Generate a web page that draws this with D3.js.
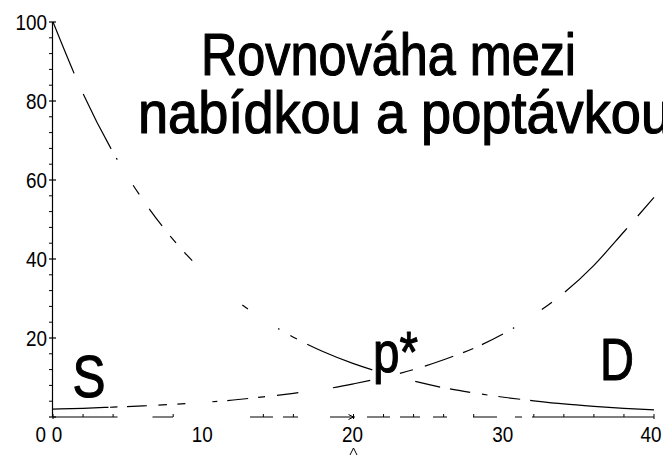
<!DOCTYPE html>
<html><head><meta charset="utf-8">
<script src="https://cdn.jsdelivr.net/npm/d3@7"></script>
<style>
html,body{margin:0;padding:0;background:#fff;}
svg{display:block;}
text{font-family:"Liberation Sans",Arial,sans-serif;fill:#000;}
</style></head>
<body>
<svg id="chart" width="663" height="457"></svg>
<script>
// ---- data ----
const quantity = [0,2,4,6,8,10,12,14,16,18,20,22,24,26,28,30,32,34,36,38,40];
const demand   = [100,81.9,67.0,54.9,44.9,36.8,30.1,24.7,20.2,16.5,13.5,11.1,9.1,7.4,6.1,5.0,4.1,3.3,2.7,2.2,1.8];
const supply   = [2.0,2.2,2.5,2.8,3.2,3.7,4.3,5.1,6.0,7.0,8.4,10.0,12.0,14.5,17.4,21.1,25.8,31.4,38.4,46.9,55.6];
const xTickLabels = ["0","10","20","30","40"];
const xTickValues = [0,10,20,30,40];
const yTickLabels = ["0","20","40","60","80","100"];
const yTickValues = [0,20,40,60,80,100];
const titleLines = ["Rovnováha mezi","nabídkou a poptávkou"];
const curveLabels = ["S","D","p*"];

// visible stretches (in x-units) of the broken dashed rendering
const demandVisible = [[0,1.4],[2.0,3.86],[4.2,4.27],[5.32,5.72],[6.39,7.25],[7.78,8.18],[8.72,9.25],[12.57,12.97],[14.97,15.05],[15.77,16.23],[16.9,21.22],[24.08,25.75],[26.41,27.74],[28.54,28.88],[29.61,31.07],[31.74,40]];
const supplyVisible = [[0,3.66],[3.79,4.26],[4.92,6.25],[6.99,7.58],[8.25,8.78],[10.58,10.91],[11.58,12.97],[13.64,14.1],[14.9,16.3],[18.63,21.09],[23.09,23.95],[24.75,26.61],[27.28,27.94],[28.54,29.94],[30.6,30.68],[32.53,33.2],[34.07,38.19],[38.92,40]];
const axisVisible = [[0,4.26],[6.59,7.98],[13.1,14.64],[15.3,16.3],[18.43,20.09],[20.89,22.42],[23.09,24.42],[25.28,26.21],[27.94,29.54],[30.74,31.2],[31.87,40]];

// ---- chart ----
const svg = d3.select("#chart");
const x = d3.scaleLinear().domain([0,40]).range([53,654]);
const y = d3.scaleLinear().domain([0,100]).range([417,22]);

function fitText(sel, len){
  sel.attr("textLength", len).attr("lengthAdjust","spacingAndGlyphs");
  return sel;
}
function heavy(sel, w){
  sel.attr("stroke","#000").attr("stroke-width",w).attr("stroke-linejoin","round");
  return sel;
}

// dash pattern from visible x-intervals
function applyVisible(path, intervals){
  const node = path.node();
  const total = node.getTotalLength();
  const samples = [];
  for(let l=0;l<=total;l+=0.5){ samples.push([l,node.getPointAtLength(l).x]); }
  samples.push([total,node.getPointAtLength(total).x]);
  function lenAt(px){
    for(const s of samples){ if(s[1]>=px) return s[0]; }
    return total;
  }
  const arr=[0]; let pos=0;
  intervals.forEach(([a,b])=>{
    const la=lenAt(x(a)), lb=Math.max(lenAt(x(b)), la+1);
    arr.push(Math.max(0,la-pos)); arr.push(lb-la); pos=lb;
  });
  arr.push(total+10);
  path.attr("stroke-dasharray", arr.map(v=>v.toFixed(2)).join(" "));
}

// y axis
const yAxisX = 52.5;
svg.append("line").attr("x1",yAxisX).attr("x2",yAxisX).attr("y1",y(0)).attr("y2",y(100))
  .attr("stroke","#000").attr("stroke-width",1.2);
d3.range(0,101,4).forEach(v=>{
  if(v%20===0) return;
  svg.append("line").attr("x1",yAxisX-3.5).attr("x2",yAxisX).attr("y1",y(v)).attr("y2",y(v))
    .attr("stroke","#000").attr("stroke-width",1);
});
yTickValues.forEach((v,i)=>{
  svg.append("line").attr("x1",yAxisX-3.5).attr("x2",yAxisX+3.5).attr("y1",y(v)).attr("y2",y(v))
    .attr("stroke","#000").attr("stroke-width",1.2);
  const lab = yTickLabels[i];
  const t = svg.append("text").attr("font-size",22).attr("text-anchor","end")
    .attr("x", v===0 ? 46 : 47).attr("y", v===0 ? y(v)+25 : y(v)+8).text(lab);
  fitText(t, lab.length*10.5);
});

// x axis (broken rendering)
const axisPath = svg.append("path")
  .attr("d", d3.line().x(d=>x(d)).y(()=>y(0))([0,40]))
  .attr("stroke","#000").attr("stroke-width",1.2).attr("fill","none");
applyVisible(axisPath, axisVisible);
function isVisible(v){ return axisVisible.some(([a,b])=>v>=a-0.05 && v<=b+0.05); }
d3.range(0,41,2).forEach(v=>{
  if(!isVisible(v)) return;
  const major = v%10===0;
  svg.append("line").attr("x1",x(v)).attr("x2",x(v))
    .attr("y1",y(0)-3).attr("y2",major? y(0)+2 : y(0))
    .attr("stroke","#000").attr("stroke-width",1);
});
// little arrowhead at 20
svg.append("path")
  .attr("d",`M${x(20)-5},${y(0)-2.5} L${x(20)},${y(0)} L${x(20)-5},${y(0)+2.5}`)
  .attr("stroke","#000").attr("fill","none").attr("stroke-width",1);
xTickValues.forEach((v,i)=>{
  const lab = xTickLabels[i];
  const t = svg.append("text").attr("font-size",22).attr("text-anchor","middle")
    .attr("x", v===0 ? x(v)+4 : (v===40 ? x(v)-3 : x(v)-1)).attr("y", 442).text(lab);
  fitText(t, lab.length*10.5);
});
// small caret mark below 20
svg.append("path")
  .attr("d",`M${x(20)-3.5},${455} L${x(20)},${448} L${x(20)+3.5},${455}`)
  .attr("stroke","#000").attr("fill","none").attr("stroke-width",1);

// curves
const line = d3.line().x((d,i)=>x(quantity[i])).y(d=>y(d)).curve(d3.curveMonotoneX);
const dPath = svg.append("path").attr("d", line(demand))
  .attr("fill","none").attr("stroke","#000").attr("stroke-width",1.2);
applyVisible(dPath, demandVisible);
const sPath = svg.append("path").attr("d", line(supply))
  .attr("fill","none").attr("stroke","#000").attr("stroke-width",1.2);
applyVisible(sPath, supplyVisible);

// labels
heavy(fitText(svg.append("text").attr("font-size",60).attr("x",x(1.3)).attr("y",y(5.1)).text(curveLabels[0]), 33), 1.1);
heavy(fitText(svg.append("text").attr("font-size",60).attr("x",x(36.4)).attr("y",y(9.4)).text(curveLabels[1]), 34), 1.1);
heavy(fitText(svg.append("text").attr("font-size",58).attr("x",x(21.3)).attr("y",y(11.4)).text(curveLabels[2]), 45), 1.1);

// title
heavy(fitText(svg.append("text").attr("font-size",59).attr("x",201).attr("y",75).text(titleLines[0]), 375), 1.2);
heavy(fitText(svg.append("text").attr("font-size",59).attr("x",138).attr("y",133).text(titleLines[1]), 533), 1.2);
</script>
</body></html>
